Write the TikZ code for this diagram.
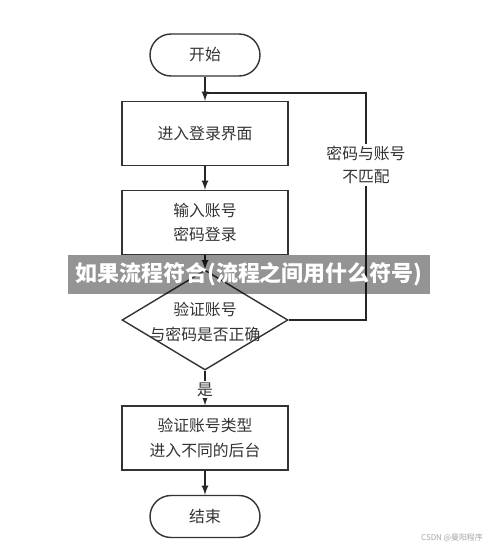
\documentclass[tikz,border=0pt]{standalone}
\usepackage{fontspec}
\setmainfont{Noto Sans CJK SC}
\usepackage{tikz}
\usetikzlibrary{shapes,arrows,positioning}

\tikzset{
  stepbox/.style={draw=black!80, thick, rectangle, minimum width=3.32cm, minimum height=1.28cm, align=center, text=black!80, font=\fontsize{9}{14}\selectfont},
  endbox/.style={draw=black!80, thick, rectangle, rounded corners=0.42cm, minimum width=2.2cm, minimum height=0.84cm, text=black!80, font=\fontsize{9}{14}\selectfont},
  testbox/.style={draw=black!80, thick, diamond, inner sep=0pt, minimum width=3.32cm, minimum height=2cm},
  flow/.style={thick, draw=black!85, -latex},
  tag/.style={fill=white, inner sep=1pt, align=center, text=black!80, font=\fontsize{9}{13}\selectfont}
}

\begin{document}
\begin{tikzpicture}[x=0.02cm, y=-0.02cm]
				\useasboundingbox (0,0) rectangle (500,549);
				\node[endbox] 	(start) at (205,55) {开始};
				\node[stepbox] 	(login) at (205,133.5) {进入登录界面};
				\node[stepbox] 	(input) at (205,222.5) {输入账号\\密码登录};
				\node[testbox] 	(check) at (205,320) {};
				\node[align=center, text=black!80, font=\fontsize{9}{14}\selectfont] (checktext) at (205,322) {验证账号\\与密码是否正确};
				\node[stepbox] 	(enter) at (205,438) {验证账号类型\\进入不同的后台};
				\node[endbox] 	(stop) at (205,516.5) {结束};
				\coordinate (merge) at (205,93);
				\coordinate (back) at (366,93);

				\draw [flow] (start) -- (login);
				\draw [flow] (login) -- (input);
				\draw [flow] (input) -- (check);
				\draw [flow] (check) -- (enter) node[tag, pos=0.55] (yes) {是};
				\draw [flow] (enter) -- (stop);
				\draw [thick, draw=black!85] (check.east) -| (back) -- (merge);
				\node[tag] (wrong) at (366,165) {密码与账号\\不匹配};

				\node[fill=black, fill opacity=0.42, text opacity=1, text=white, minimum width=7.24cm, minimum height=0.78cm, font=\fontsize{12.5}{14}\selectfont\bfseries] (banner) at (249,274.5) {如果流程符合(流程之间用什么符号)};
				\node[text=black!35, font=\fontsize{4.5}{5}\selectfont] (mark) at (452,538) {CSDN @曼阳程序};
\end{tikzpicture}
\end{document}
